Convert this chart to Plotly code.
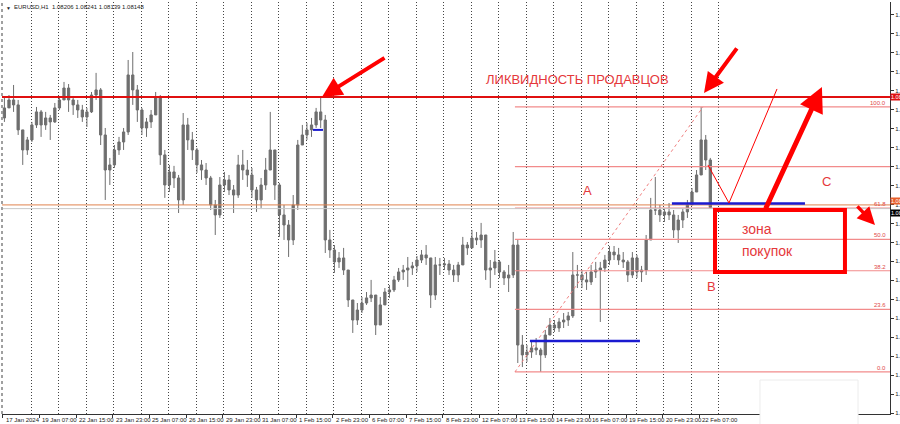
import plotly.graph_objects as go

# ---------------- data (EURUSD, 4-hour groups of H1 bars) ----------------
header_symbol = "EURUSD,H1"
header_values = "1.08206 1.08241 1.08139 1.08148"

first_open = 1.08800
highs = [
    1.08946, 1.08967, 1.09040, 1.08931, 1.08713, 1.08662, 1.08771, 1.08880, 1.08858, 1.08844,
    1.08822, 1.08909, 1.08960, 1.09062, 1.09047, 1.08960, 1.08931, 1.08895, 1.08873, 1.08989,
    1.09128, 1.09018, 1.08727, 1.08509, 1.08603, 1.08662, 1.08727, 1.09222, 1.09280, 1.09040,
    1.08873, 1.08800, 1.08858, 1.08989, 1.08967, 1.08567, 1.08458, 1.08451, 1.08385, 1.08836,
    1.08800, 1.08698, 1.08582, 1.08494, 1.08472, 1.08378, 1.08203, 1.08370, 1.08407, 1.08385,
    1.08312, 1.08531, 1.08567, 1.08494, 1.08436, 1.08298, 1.08363, 1.08509, 1.08844, 1.08567,
    1.08327, 1.08167, 1.08057, 1.08239, 1.08640, 1.08749, 1.08764, 1.08800, 1.08873, 1.08946,
    1.08822, 1.07985, 1.07875, 1.07824, 1.07854, 1.07693, 1.07475, 1.07453, 1.07497, 1.07533,
    1.07621, 1.07511, 1.07497, 1.07562, 1.07584, 1.07650, 1.07708, 1.07730, 1.07788, 1.07752,
    1.07795, 1.07839, 1.07875, 1.07781, 1.07788, 1.07781, 1.07781, 1.07766, 1.07730, 1.07752,
    1.07934, 1.07897, 1.07985, 1.07970, 1.08036, 1.07948, 1.07766, 1.07839, 1.07766, 1.07693,
    1.07730, 1.07970, 1.07912, 1.07220, 1.07147, 1.07169, 1.07198, 1.07126, 1.07257, 1.07344,
    1.07329, 1.07344, 1.07380, 1.07388, 1.07824, 1.07730, 1.07693, 1.07679, 1.07730, 1.07752,
    1.07752, 1.07803, 1.07868, 1.07868, 1.07854, 1.07824, 1.07766, 1.07824, 1.07803, 1.07723,
    1.07948, 1.08218, 1.08370, 1.08167, 1.08145, 1.08181, 1.08130, 1.08094, 1.08145, 1.08203,
    1.08290, 1.08421, 1.08880, 1.08676, 1.08509,
]
lows = [
    1.08771, 1.08873, 1.08844, 1.08676, 1.08458, 1.08531, 1.08625, 1.08727, 1.08662, 1.08713,
    1.08640, 1.08764, 1.08858, 1.08931, 1.08844, 1.08822, 1.08800, 1.08771, 1.08734, 1.08836,
    1.08931, 1.08603, 1.08203, 1.08312, 1.08436, 1.08531, 1.08567, 1.08676, 1.08895, 1.08771,
    1.08676, 1.08662, 1.08727, 1.08822, 1.08458, 1.08218, 1.08261, 1.08290, 1.08108, 1.08167,
    1.08567, 1.08494, 1.08400, 1.08349, 1.08312, 1.08130, 1.07948, 1.08072, 1.08261, 1.08239,
    1.08108, 1.08218, 1.08349, 1.08298, 1.08218, 1.08116, 1.08145, 1.08276, 1.08421, 1.08203,
    1.07934, 1.07912, 1.07788, 1.07875, 1.08130, 1.08603, 1.08640, 1.08662, 1.08727, 1.08727,
    1.07817, 1.07781, 1.07672, 1.07708, 1.07657, 1.07424, 1.07235, 1.07293, 1.07380, 1.07439,
    1.07460, 1.07220, 1.07293, 1.07439, 1.07490, 1.07533, 1.07606, 1.07621, 1.07570, 1.07657,
    1.07679, 1.07744, 1.07730, 1.07417, 1.07475, 1.07657, 1.07693, 1.07657, 1.07606, 1.07606,
    1.07730, 1.07803, 1.07854, 1.07875, 1.07854, 1.07621, 1.07562, 1.07657, 1.07635, 1.07584,
    1.07533, 1.07635, 1.07016, 1.06987, 1.07024, 1.07053, 1.07075, 1.06951, 1.07053, 1.07220,
    1.07242, 1.07242, 1.07271, 1.07286, 1.07344, 1.07562, 1.07562, 1.07548, 1.07584, 1.07635,
    1.07315, 1.07679, 1.07730, 1.07766, 1.07730, 1.07708, 1.07606, 1.07635, 1.07635, 1.07606,
    1.07657, 1.07912, 1.08094, 1.08043, 1.08043, 1.08057, 1.07926, 1.07890, 1.07999, 1.08072,
    1.08167, 1.08261, 1.08385, 1.08421, 1.08139,
]
closes = [
    1.08873, 1.08931, 1.08895, 1.08713, 1.08567, 1.08640, 1.08749, 1.08844, 1.08749, 1.08800,
    1.08771, 1.08873, 1.08931, 1.09018, 1.08931, 1.08895, 1.08858, 1.08807, 1.08844, 1.08967,
    1.09004, 1.08676, 1.08421, 1.08458, 1.08567, 1.08625, 1.08698, 1.09113, 1.09004, 1.08858,
    1.08727, 1.08771, 1.08822, 1.08953, 1.08531, 1.08312, 1.08407, 1.08363, 1.08203, 1.08749,
    1.08640, 1.08567, 1.08458, 1.08421, 1.08363, 1.08167, 1.08094, 1.08312, 1.08349, 1.08276,
    1.08239, 1.08458, 1.08421, 1.08385, 1.08276, 1.08203, 1.08312, 1.08421, 1.08567, 1.08312,
    1.08094, 1.08021, 1.07912, 1.08167, 1.08603, 1.08676, 1.08713, 1.08749, 1.08844, 1.08785,
    1.07912, 1.07839, 1.07752, 1.07781, 1.07693, 1.07475, 1.07329, 1.07402, 1.07453, 1.07490,
    1.07511, 1.07293, 1.07439, 1.07533, 1.07548, 1.07621, 1.07679, 1.07693, 1.07708, 1.07723,
    1.07766, 1.07803, 1.07781, 1.07511, 1.07730, 1.07730, 1.07737, 1.07693, 1.07657, 1.07730,
    1.07875, 1.07854, 1.07926, 1.07912, 1.07948, 1.07693, 1.07708, 1.07752, 1.07679, 1.07635,
    1.07657, 1.07875, 1.07147, 1.07075, 1.07096, 1.07126, 1.07111, 1.07075, 1.07220, 1.07293,
    1.07271, 1.07315, 1.07329, 1.07359, 1.07657, 1.07657, 1.07621, 1.07606, 1.07679, 1.07693,
    1.07708, 1.07766, 1.07824, 1.07803, 1.07766, 1.07752, 1.07657, 1.07781, 1.07679, 1.07693,
    1.07912, 1.08130, 1.08130, 1.08094, 1.08116, 1.08094, 1.07985, 1.08057, 1.08116, 1.08167,
    1.08261, 1.08385, 1.08640, 1.08494, 1.08148,
]
opens = [first_open] + closes[:-1]
bar_pos = [4 * k + 1.5 for k in range(len(closes))]   # hourly bar index of each 4h group

date_labels = [
    "17 Jan 2024", "19 Jan 07:00", "22 Jan 15:00", "23 Jan 23:00", "25 Jan 07:00",
    "26 Jan 15:00", "29 Jan 23:00", "31 Jan 07:00", "1 Feb 15:00", "2 Feb 23:00",
    "6 Feb 07:00", "7 Feb 15:00", "8 Feb 23:00", "12 Feb 07:00", "13 Feb 15:00",
    "14 Feb 23:00", "16 Feb 07:00", "19 Feb 15:00", "20 Feb 23:00", "22 Feb 07:00",
]
date_ticks = [32 * i for i in range(len(date_labels))]
day_lines = [1 + 24 * n for n in range(1, 27)]

liquidity_level = 1.08953
orange_level = 1.08167
bid_level = 1.08140
fib_low, fib_high = 1.06951, 1.08880
fib_ratios = [0.0, 0.236, 0.382, 0.5, 0.618, 1.0]
fib_texts = ["0.0", "23.6", "38.2", "50.0", "61.8", "100.0"]
fib_extra_level = 1.08446

blue_levels = [1.08713, 1.07177, 1.08178]

# ---------------- figure ----------------
FONT = "Liberation Sans, Arial, sans-serif"
RED = "#ff0000"
TXT_RED = "#e5383b"
FIB = "#f28b8b"

X0, X1 = -0.6, 774.3
Y0, Y1 = 1.06645, 1.09644

fig = go.Figure()
fig.add_trace(go.Candlestick(
    x=bar_pos, open=opens, high=highs, low=lows, close=closes,
    increasing=dict(line=dict(color="#6e6e6e", width=1), fillcolor="#6e6e6e"),
    decreasing=dict(line=dict(color="#6e6e6e", width=1), fillcolor="#6e6e6e"),
    whiskerwidth=0, hoverinfo="skip", showlegend=False,
))

shapes = []
for r in fib_ratios:
    lv = fib_low + r * (fib_high - fib_low)
    shapes.append(dict(type="line", xref="x", yref="y", x0=447, x1=X1, y0=lv, y1=lv,
                       line=dict(color=FIB, width=1.2)))
shapes.append(dict(type="line", xref="x", yref="y", x0=447, x1=X1, y0=fib_extra_level, y1=fib_extra_level,
                   line=dict(color=FIB, width=1.2)))
shapes.append(dict(type="line", xref="x", yref="y", x0=447, x1=611.1, y0=fib_low, y1=fib_high,
                   line=dict(color="#f08080", width=1, dash="dot")))
shapes.append(dict(type="line", xref="paper", yref="y", x0=0, x1=1, y0=bid_level, y1=bid_level,
                   line=dict(color="#c8c8c8", width=1)))
shapes.append(dict(type="line", xref="paper", yref="y", x0=0, x1=1, y0=orange_level, y1=orange_level,
                   line=dict(color="#e0824e", width=1)))
shapes.append(dict(type="line", xref="paper", yref="y", x0=0, x1=1, y0=liquidity_level, y1=liquidity_level,
                   line=dict(color="#e01010", width=2)))
shapes.append(dict(type="line", xref="x", yref="y", x0=270.8, x1=279.5, y0=blue_levels[0], y1=blue_levels[0],
                   line=dict(color="#1a1ad0", width=2)))
shapes.append(dict(type="line", xref="x", yref="y", x0=460.1, x1=556.1, y0=blue_levels[1], y1=blue_levels[1],
                   line=dict(color="#1a1ad0", width=2.5)))
shapes.append(dict(type="line", xref="x", yref="y", x0=584.0, x1=700.1, y0=blue_levels[2], y1=blue_levels[2],
                   line=dict(color="#1a1ad0", width=2.5)))
shapes.append(dict(type="path", xref="x", yref="y",
                   path="M 615.4 1.08458 L 633.8 1.08181 L 675.7 1.09011",
                   line=dict(color=RED, width=1)))
shapes.append(dict(type="rect", xref="x", yref="y", x0=621.6, x1=735.0, y0=1.07679, y1=1.08130,
                   line=dict(color=RED, width=4)))
shapes.append(dict(type="rect", xref="paper", yref="paper", x0=0.8536, x1=0.9640, y0=0.0825, y1=-0.05,
                   fillcolor="white", line=dict(color="#ececec", width=1), layer="above"))
shapes.append(dict(type="line", xref="paper", yref="paper", x0=0, x1=0, y0=0, y1=1,
                   line=dict(color="#a0a0a0", width=2, dash="dot")))

ann = []
for t, s in zip(date_ticks, date_labels):
    ann.append(dict(x=t + 0.8, y=0, xref="x", yref="paper", text=s, showarrow=False,
                    xanchor="left", yanchor="top", yshift=-1,
                    font=dict(family=FONT, size=6, color="#222")))
for r, s in zip(fib_ratios, fib_texts):
    lv = fib_low + r * (fib_high - fib_low)
    ann.append(dict(x=772.5, y=lv, xref="x", yref="y", text=s, showarrow=False,
                    xanchor="right", yanchor="bottom", yshift=-1,
                    font=dict(family=FONT, size=6, color="#e04848")))
ann.append(dict(x=0.002, y=1, xref="paper", yref="paper", text="\u25bc", showarrow=False,
                xanchor="left", yanchor="top", yshift=-1, font=dict(family=FONT, size=5, color="#222")))
ann.append(dict(x=0.011, y=1, xref="paper", yref="paper", text=header_symbol + "  " + header_values,
                showarrow=False, xanchor="left", yanchor="top", yshift=0,
                font=dict(family=FONT, size=6, color="#222")))
ann.append(dict(x=420.0, y=1.09077, xref="x", yref="y", text="ЛИКВИДНОСТЬ ПРОДАВЦОВ", showarrow=False,
                xanchor="left", yanchor="middle", font=dict(family=FONT, size=13, color=TXT_RED)))
for s, xx, yy in [("A", 510.7, 1.08269), ("B", 618.1, 1.07570), ("C", 719.3, 1.08341)]:
    ann.append(dict(x=xx, y=yy, xref="x", yref="y", text=s, showarrow=False,
                    xanchor="center", yanchor="middle", font=dict(family=FONT, size=13, color=TXT_RED)))
ann.append(dict(x=643.4, y=1.07992, xref="x", yref="y", text="зона", showarrow=False,
                xanchor="left", yanchor="middle", font=dict(family=FONT, size=14, color=TXT_RED)))
ann.append(dict(x=643.4, y=1.07832, xref="x", yref="y", text="покупок", showarrow=False,
                xanchor="left", yanchor="middle", font=dict(family=FONT, size=14, color=TXT_RED)))
for (hx, hy, tx, ty, w) in [(278.6, 1.08953, 334.5, 1.09244, 4),
                            (612.0, 1.08982, 641.6, 1.09317, 4),
                            (714.9, 1.09026, 665.2, 1.08130, 5),
                            (761.2, 1.08021, 744.6, 1.08167, 3.5)]:
    ann.append(dict(x=hx, y=hy, ax=tx, ay=ty, xref="x", yref="y", axref="x", ayref="y",
                    text="", showarrow=True, arrowhead=2, arrowsize=1, arrowwidth=w,
                    arrowcolor=RED, standoff=0))
for lv, bg, s in [(liquidity_level, "#e01010", "1.08953"), (1.08194, "#e8602c", "1.08170"),
                  (1.08110, "#000000", "1.08148")]:
    ann.append(dict(x=1, y=lv, xref="paper", yref="y", text=s, showarrow=False,
                    xanchor="left", yanchor="middle", bgcolor=bg, borderpad=0,
                    font=dict(family=FONT, size=5.5, color="white")))

fig.update_layout(
    width=900, height=424,
    margin=dict(l=2, r=10, t=2, b=10),
    paper_bgcolor="white", plot_bgcolor="white",
    showlegend=False, shapes=shapes, annotations=ann,
    xaxis=dict(range=[X0, X1], rangeslider=dict(visible=False), showgrid=False, zeroline=False,
               tickmode="array", tickvals=date_ticks, showticklabels=False,
               ticks="outside", ticklen=3, tickcolor="#333", showline=True, linecolor="#333",
               linewidth=1, automargin=False,
               minor=dict(tickmode="array", tickvals=day_lines, showgrid=True,
                          gridcolor="#444444", griddash="1px,2px", gridwidth=1, ticks="")),
    yaxis=dict(range=[Y0, Y1], side="right", showgrid=False, zeroline=False,
               tick0=1.09550, dtick=0.00138, tickformat=".5f",
               ticks="outside", ticklen=3, tickcolor="#333", showline=True, linecolor="#333",
               linewidth=1, automargin=False,
               tickfont=dict(family=FONT, size=6, color="#222")),
)

fig.write_html("out.html", config={"displayModeBar": False},
               post_script="document.body.style.margin='0px';document.body.style.overflow='hidden';")
